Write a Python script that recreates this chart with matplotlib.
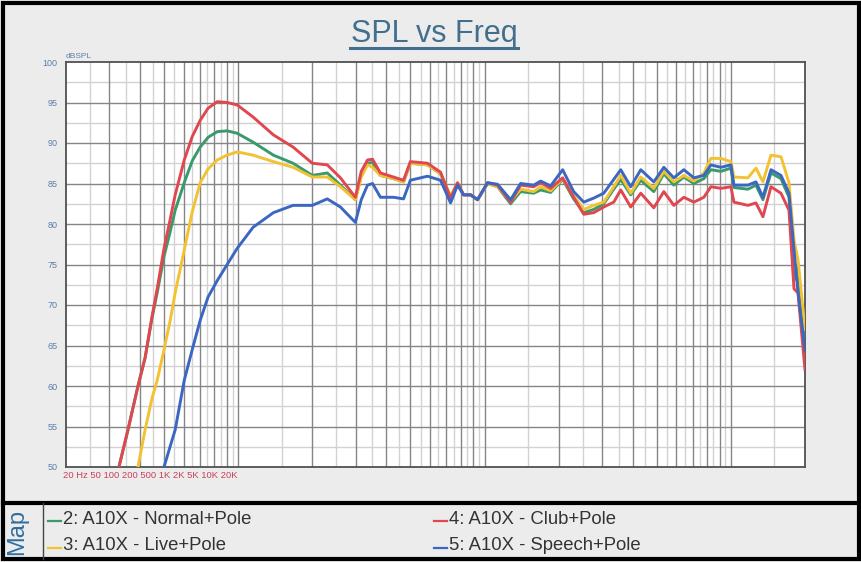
import numpy as np
import matplotlib
matplotlib.use("Agg")
import matplotlib.pyplot as plt
from matplotlib.lines import Line2D
from matplotlib.patches import Rectangle

plt.rcParams['font.family'] = ['Liberation Sans', 'DejaVu Sans']

nan = np.nan

# ============== data ==============
freq_hz = [32.8, 35.7, 39.2, 41.9, 44.7, 46.9, 50.0, 52.9, 55.5, 60.4,
           65.1, 70.1, 75.5, 82.2, 90.2, 99.1, 115, 139, 167, 200,
           230, 260, 299, 316, 335, 351, 378, 427, 469, 500,
           587, 663, 728, 777, 822, 878, 937, 1029, 1130, 1276,
           1401, 1583, 1690, 1856, 2076, 2301, 2528, 2776, 3048, 3347,
           3573, 3923, 4308, 4867, 5344, 5868, 6444, 7076, 7771, 8299,
           9113, 10006, 10290, 11733, 12644, 13500, 14552, 15978, 17219, 18046,
           18730, 20000]

spl_normal = [50.0, 54.6, 60.0, 63.5, 68.4, 71.5, 76.0, 79.0, 81.7, 85.1,
              87.8, 89.5, 90.7, 91.4, 91.5, 91.2, 90.1, 88.5, 87.5, 86.0,
              86.3, 84.8, 83.0, 86.0, 87.5, 87.6, 86.0, 85.6, 85.2, 87.5,
              87.3, 86.2, 83.3, 85.0, 83.6, 83.6, 83.0, 85.0, 84.6, 82.5,
              84.0, 83.8, 84.2, 83.9, 85.5, 83.1, 81.4, 81.8, 82.5, 84.3,
              85.5, 83.6, 85.4, 84.0, 86.2, 84.8, 85.8, 85.0, 85.6, 86.7,
              86.5, 86.9, 84.5, 84.3, 84.8, 83.0, 86.3, 85.6, 83.3, 73.0,
              75.0, 64.5]

spl_live = [nan, nan, 50.0, 54.6, 58.5, 60.7, 64.5, 68.0, 71.5, 76.8,
            81.5, 85.1, 86.8, 87.9, 88.5, 88.9, 88.5, 87.7, 87.0, 85.8,
            85.8, 84.6, 83.0, 85.8, 87.3, 87.0, 86.0, 85.6, 85.2, 87.5,
            87.3, 86.2, 83.5, 85.0, 83.6, 83.6, 83.0, 85.0, 84.6, 82.8,
            84.3, 84.0, 84.6, 84.1, 85.6, 83.5, 81.8, 82.3, 82.7, 84.6,
            86.0, 83.8, 85.8, 84.4, 86.5, 85.2, 86.0, 85.3, 86.3, 88.1,
            88.1, 87.7, 85.8, 85.7, 86.9, 85.2, 88.5, 88.3, 85.1, 78.0,
            75.6, 67.0]

spl_club = [50.0, 54.6, 60.0, 63.5, 68.6, 72.0, 77.0, 80.5, 83.6, 87.9,
            90.8, 92.8, 94.3, 95.1, 95.0, 94.7, 93.2, 91.0, 89.5, 87.5,
            87.3, 85.7, 83.3, 86.5, 87.9, 88.0, 86.3, 85.8, 85.4, 87.7,
            87.5, 86.4, 83.2, 85.1, 83.6, 83.6, 83.0, 85.1, 84.8, 82.7,
            84.8, 84.6, 85.1, 84.4, 85.7, 83.3, 81.2, 81.4, 82.1, 82.7,
            84.2, 82.1, 83.8, 82.0, 84.0, 82.3, 83.3, 82.7, 83.3, 84.6,
            84.4, 84.6, 82.7, 82.3, 82.6, 80.9, 84.6, 83.8, 81.7, 72.0,
            71.5, 62.0]

spl_speech = [nan, nan, nan, nan, nan, nan, 50.0, 52.5, 54.6, 60.7,
              64.5, 68.1, 71.0, 73.0, 75.0, 77.0, 79.6, 81.4, 82.3, 82.3,
              83.1, 82.1, 80.2, 83.0, 84.8, 85.0, 83.3, 83.3, 83.1, 85.4,
              85.9, 85.4, 82.6, 84.8, 83.6, 83.6, 83.0, 85.1, 84.9, 83.0,
              85.0, 84.8, 85.3, 84.7, 86.7, 84.0, 82.7, 83.2, 83.8, 85.5,
              86.7, 84.6, 86.7, 85.2, 87.0, 85.7, 86.7, 85.7, 86.0, 87.3,
              87.0, 87.3, 84.8, 84.8, 85.2, 83.3, 86.7, 86.0, 83.8, 76.8,
              71.6, 64.4]

series_names = ["2: A10X - Normal+Pole", "3: A10X - Live+Pole",
                "4: A10X - Club+Pole", "5: A10X - Speech+Pole"]
y_ticks = [50, 55, 60, 65, 70, 75, 80, 85, 90, 95, 100]
x_tick_labels = ["20 Hz", "50", "100", "200", "500", "1K", "2K", "5K", "10K", "20K"]

colors = ['#3a9a6c', '#f2c232', '#e0474f', '#3b67c2']

W, H = 862, 562


def fx(px):
    return px / W


def fy(py):
    return 1 - py / H


fig = plt.figure(figsize=(W / 100, H / 100), dpi=100, facecolor='#ececec')
ax = fig.add_axes([fx(66), fy(467), (805 - 66) / W, (467 - 62) / H])
ax.set_facecolor('white')
ax.set_xscale('log')
ax.set_xlim(20, 20000)
ax.set_ylim(50, 100)

# grid: dark on whole multiples, light on half steps
for d in (10, 100, 1000, 10000):
    for m in range(1, 10):
        f = m * d
        if 20 < f < 20000:
            ax.axvline(f, color='#858585', lw=1.0, zorder=1)
        f2 = (m + 0.5) * d
        if 20 < f2 < 20000:
            ax.axvline(f2, color='#d2d2d2', lw=1.0, zorder=0.5)
for v in range(55, 100, 5):
    ax.axhline(v, color='#858585', lw=1.0, zorder=1)
for v in np.arange(52.5, 100, 5):
    ax.axhline(v, color='#d2d2d2', lw=1.0, zorder=0.5)

for vals, c in zip([spl_normal, spl_live, spl_club, spl_speech], colors):
    ax.plot(freq_hz, vals, color=c, lw=2.1, zorder=3, solid_joinstyle='round')

for s in ax.spines.values():
    s.set_color('#505050')
    s.set_linewidth(1.3)

ax.set_xticks([])
ax.set_xticks([], minor=True)
ax.set_yticks(y_ticks)
ax.set_yticklabels([str(t) for t in y_ticks])
ax.tick_params(axis='y', length=0, pad=6, labelsize=6.5, labelcolor='#5b7fa8')

ax.text(0.0, 1.006, "dBSPL", transform=ax.transAxes, fontsize=6,
        color='#5b7fa8', ha='left', va='bottom')
fig.text(fx(63), fy(476), " ".join(x_tick_labels), fontsize=6.8,
         color='#c8405e', ha='left', va='center')

# title with underline
fig.text(fx(434), fy(34), "SPL vs Freq", fontsize=22, color='#436f8f',
         ha='center', va='center')
fig.add_artist(Line2D([fx(350), fx(518)], [fy(48), fy(48)],
                      color='#436f8f', lw=2.2, transform=fig.transFigure))

# frame and map panel
fig.add_artist(Rectangle((fx(3), fy(559)), 856 / W, 556 / H, fill=False,
                         ec='black', lw=3, transform=fig.transFigure))
fig.add_artist(Line2D([fx(3), fx(859)], [fy(503), fy(503)], color='black',
                      lw=3, transform=fig.transFigure))
fig.add_artist(Line2D([fx(43), fx(43)], [fy(503), fy(559)], color='#444444',
                      lw=1, transform=fig.transFigure))
fig.text(fx(17), fy(532), "Map", rotation=90, fontsize=17, color='#2f6e9e',
         ha='center', va='center')

legend_pos = [(48, 519), (48, 546), (434, 519), (434, 546)]
for name, c, (lx, ly) in zip(series_names, colors, legend_pos):
    fig.add_artist(Line2D([fx(lx), fx(lx + 13)], [fy(ly + 2), fy(ly + 2)],
                          color=c, lw=1.6, transform=fig.transFigure))
    fig.text(fx(lx + 15), fy(ly), name, fontsize=13.3, color='#333333',
             ha='left', va='center')

fig.savefig("out.png", dpi=100, facecolor=fig.get_facecolor())
